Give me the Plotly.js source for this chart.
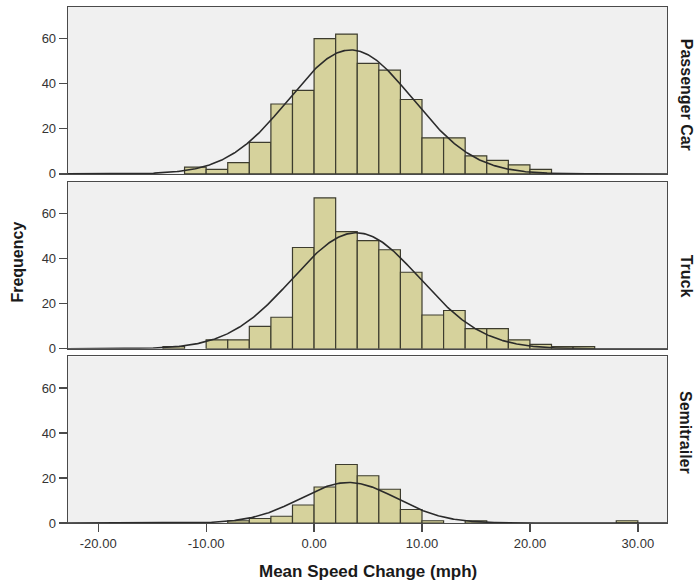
<!DOCTYPE html>
<html>
<head>
<meta charset="utf-8">
<script src="https://cdn.plot.ly/plotly-3.0.1.min.js"></script>
<style>html,body{margin:0;padding:0;background:#fff;}#chart{width:696px;height:584px;}</style>
</head>
<body>
<div id="chart"></div>
<script>
// Left edges of 2-mph bins
const binLeft = [-14,-12,-10,-8,-6,-4,-2,0,2,4,6,8,10,12,14,16,18,20,22,24,26,28];
const binWidth = 2;
// Frequencies per bin
const passengerCar = [0,3,2,5,14,31,37,60,62,49,46,33,16,16,8,6,4,2,0,0,0,0];
const truck        = [1,0,4,4,10,14,45,67,52,48,44,34,15,17,9,9,4,2,1,1,0,0];
const semitrailer  = [0,0,0,1,2,3,8,16,26,21,15,6,1,0,1,0,0,0,0,0,0,1];
// Normal curve parameters (mean, sd)
const panelNames = ["Passenger Car","Truck","Semitrailer"];
const curveMean = [3.4, 3.9, 3.2];
const curveSD   = [5.72, 5.9, 4.48];
const xTicks = [-20,-10,0,10,20,30];
const xTickText = ["-20.00","-10.00","0.00","10.00","20.00","30.00"];
const yTicks = [0,20,40,60];

const series = [passengerCar, truck, semitrailer];
const xr = [-22.8, 32.7];
const traces = [];
series.forEach((counts, i) => {
  const xs = [], ys = [];
  counts.forEach((c, j) => { if (c > 0) { xs.push(binLeft[j] + binWidth/2); ys.push(c); } });
  const ax = i === 0 ? '' : String(i+1);
  traces.push({
    type: 'bar', x: xs, y: ys, width: binWidth,
    xaxis: 'x' + ax, yaxis: 'y' + ax,
    marker: {color: '#d6d29c', line: {color: '#3d3c2e', width: 1.2}},
    hoverinfo: 'x+y', showlegend: false
  });
  const N = counts.reduce((a,b)=>a+b,0);
  const cx = [], cy = [];
  for (let x = xr[0]; x <= xr[1] + 1e-9; x += 0.1) {
    const z = (x - curveMean[i]) / curveSD[i];
    cx.push(x);
    cy.push(N * binWidth * Math.exp(-0.5*z*z) / (curveSD[i] * Math.sqrt(2*Math.PI)));
  }
  traces.push({
    type: 'scatter', mode: 'lines', x: cx, y: cy,
    xaxis: 'x' + ax, yaxis: 'y' + ax,
    line: {color: '#2b2b2b', width: 1.6}, hoverinfo: 'skip', showlegend: false
  });
});

const font = {family: 'Liberation Sans, Arial, sans-serif', color: '#333'};
function xaxis(anchor, showLabels) {
  return {
    range: xr, anchor: anchor, showline: true, mirror: true, linecolor: '#4a4a4a', linewidth: 1.3,
    showgrid: false, zeroline: false,
    tickmode: 'array', tickvals: xTicks, ticktext: xTickText,
    ticks: showLabels ? 'outside' : '', ticklen: 8, tickcolor: '#4a4a4a', tickwidth: 1.3,
    showticklabels: showLabels, tickfont: {family: font.family, size: 13, color: '#333'}
  };
}
function yaxis(domain, anchor) {
  return {
    domain: domain, range: [0, 74], anchor: anchor, showline: true, mirror: true,
    linecolor: '#4a4a4a', linewidth: 1.3, showgrid: false, zeroline: false,
    tickmode: 'array', tickvals: yTicks, ticks: 'outside', ticklen: 8,
    tickcolor: '#4a4a4a', tickwidth: 1.3,
    tickfont: {family: font.family, size: 13, color: '#333'}
  };
}

const layout = {
  width: 696, height: 584,
  margin: {l: 68, r: 29, t: 7, b: 61},
  paper_bgcolor: '#ffffff', plot_bgcolor: '#f0f0f0',
  font: font, bargap: 0, barmode: 'overlay',
  xaxis: xaxis('y', false),
  xaxis2: Object.assign(xaxis('y2', false), {matches: 'x'}),
  xaxis3: Object.assign(xaxis('y3', true), {matches: 'x'}),
  yaxis: yaxis([0.6765, 1], 'x'),
  yaxis2: yaxis([0.3376, 0.6605], 'x2'),
  yaxis3: yaxis([0, 0.3227], 'x3'),
  annotations: [
    {text: '<b>' + panelNames[0] + '</b>', xref: 'paper', yref: 'paper', x: 1.032, y: 0.8296, textangle: 90, showarrow: false, xanchor: 'center', yanchor: 'middle', font: {family: font.family, size: 16, color: '#1a1a1a'}},
    {text: '<b>' + panelNames[1] + '</b>', xref: 'paper', yref: 'paper', x: 1.032, y: 0.479, textangle: 90, showarrow: false, xanchor: 'center', yanchor: 'middle', font: {family: font.family, size: 16, color: '#1a1a1a'}},
    {text: '<b>' + panelNames[2] + '</b>', xref: 'paper', yref: 'paper', x: 1.032, y: 0.176, textangle: 90, showarrow: false, xanchor: 'center', yanchor: 'middle', font: {family: font.family, size: 16, color: '#1a1a1a'}},
    {text: '<b>Frequency</b>', xref: 'paper', yref: 'paper', x: -0.084, y: 0.506, textangle: -90, showarrow: false, xanchor: 'center', yanchor: 'middle', font: {family: font.family, size: 16, color: '#1a1a1a'}},
    {text: '<b>Mean Speed Change (mph)</b>', xref: 'paper', yref: 'paper', x: 0.5, y: -0.0937, showarrow: false, xanchor: 'center', yanchor: 'middle', font: {family: font.family, size: 17, color: '#1a1a1a'}}
  ]
};

Plotly.newPlot('chart', traces, layout, {displayModeBar: false, staticPlot: true});
</script>
</body>
</html>
